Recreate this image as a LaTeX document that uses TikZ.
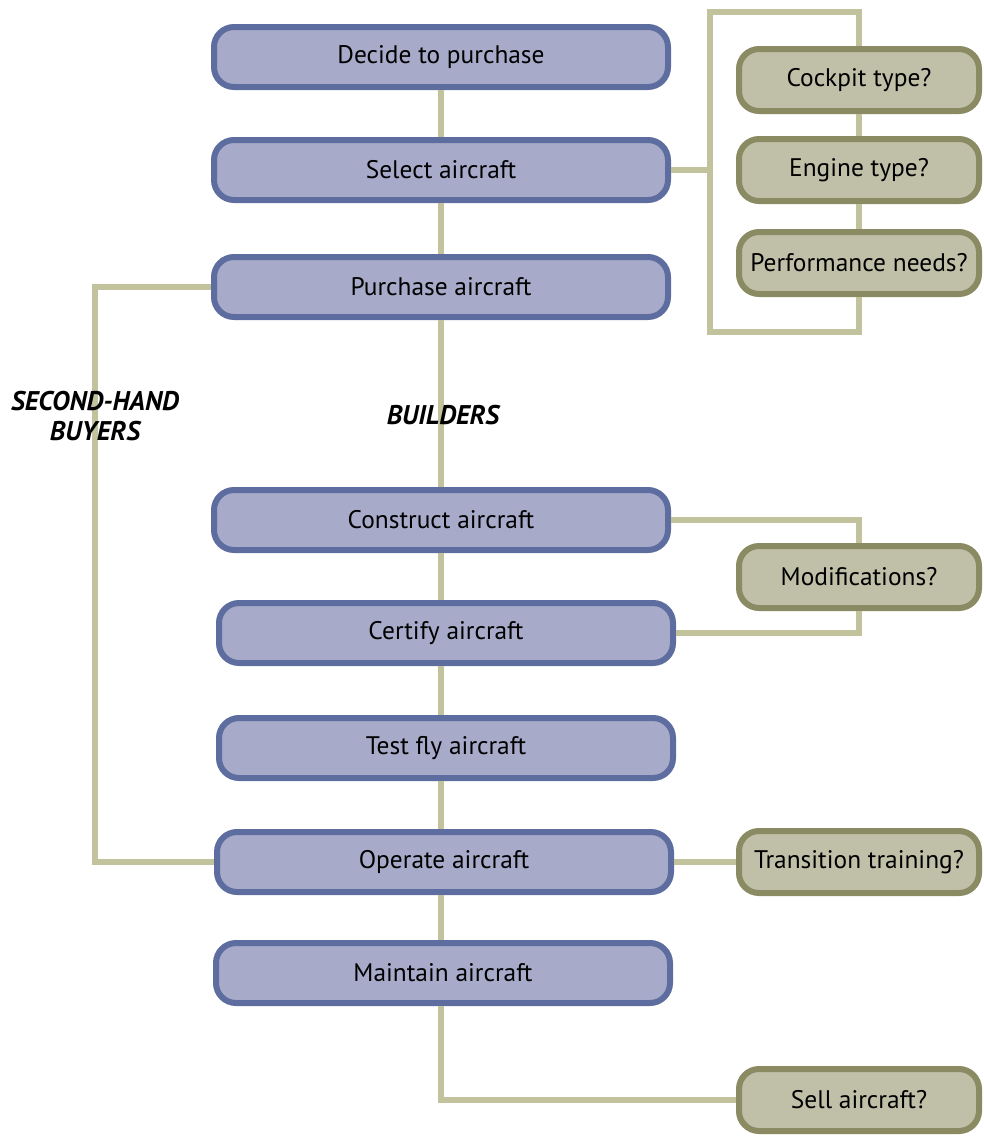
\documentclass[tikz,border=0pt]{standalone}
\usepackage{fontspec}
\setmainfont{PT Sans}
\usepackage{tikz}
\definecolor{stepfill}{HTML}{A7AAC9}
\definecolor{stepline}{HTML}{5D6D9F}
\definecolor{askfill}{HTML}{C0C0A9}
\definecolor{askline}{HTML}{8A8A63}
\definecolor{wire}{HTML}{C2C29C}
\tikzstyle{stepbox}=[draw=stepline,fill=stepfill,line width=3pt,rounded corners=10pt,
    minimum width=227pt,minimum height=30pt,font=\fontsize{12.7}{14}\selectfont]
\tikzstyle{askbox}=[draw=askline,fill=askfill,line width=3pt,rounded corners=10pt,
    minimum width=120pt,minimum height=31pt,font=\fontsize{12.7}{14}\selectfont]
\tikzstyle{wireline}=[draw=wire,line width=3pt]
\tikzstyle{group}=[font=\fontsize{13.5}{15}\selectfont\bfseries\itshape,align=center,inner sep=1pt]

\begin{document}
\begin{tikzpicture}[x=0.5pt,y=-0.5pt]
    \useasboundingbox (0,0) rectangle (984,1136);
    % main line
    \node[stepbox] (decide)    at (441,57)  {Decide to purchase};
    \node[stepbox] (select)    at (441,170) {Select aircraft};
    \node[stepbox] (purchase)  at (441,287) {Purchase aircraft};
    \node[stepbox] (construct) at (441,520) {Construct aircraft};
    \node[stepbox] (certify)   at (446,633) {Certify aircraft};
    \node[stepbox] (testfly)   at (446,748) {Test fly aircraft};
    \node[stepbox] (operate)   at (444,862) {Operate aircraft};
    \node[stepbox] (maintain)  at (443,973) {Maintain aircraft};
    % questions
    \node[askbox] (cockpit)     at (859,80)   {Cockpit type?};
    \node[askbox] (engine)      at (859,170)  {Engine type?};
    \node[askbox] (performance) at (859,263)  {Performance needs?};
    \node[askbox] (mods)        at (859,577)  {Modifications?};
    \node[askbox] (transition)  at (859,862)  {Transition training?};
    \node[askbox] (sell)        at (859,1100) {Sell aircraft?};
    % connectors
    \coordinate (brtop) at (710,12);
    \coordinate (brbot) at (710,332);
    \coordinate (buyturn) at (95,287);
    \draw[wireline] (decide) -- (select);
    \draw[wireline] (select) -- (purchase);
    \draw[wireline] (purchase) -- (construct);
    \draw[wireline] (construct) -- (certify.north -| construct);
    \draw[wireline] (certify.south -| construct) -- (testfly.north -| construct);
    \draw[wireline] (testfly.south -| construct) -- (operate.north -| construct);
    \draw[wireline] (operate.south -| construct) -- (maintain.north -| construct);
    \draw[wireline] (select.east) -- (select.east -| brtop);
    \draw[wireline] (cockpit.north) |- (brtop) -- (brbot) -| (performance.south);
    \draw[wireline] (cockpit) -- (engine);
    \draw[wireline] (engine) -- (performance);
    \draw[wireline] (purchase.west) -- (purchase.west -| buyturn) |- (operate.west);
    \draw[wireline] (construct.east) -| (mods.north);
    \draw[wireline] (certify.east) -| (mods.south);
    \draw[wireline] (operate) -- (transition);
    \draw[wireline] (maintain.south -| construct) |- (sell.west);
    % labels over the lines
    \node[group] (secondhand) at (95,416) {SECOND-HAND\\BUYERS};
    \node[group] (builders)   at (443,415) {BUILDERS};
\end{tikzpicture}
\end{document}
